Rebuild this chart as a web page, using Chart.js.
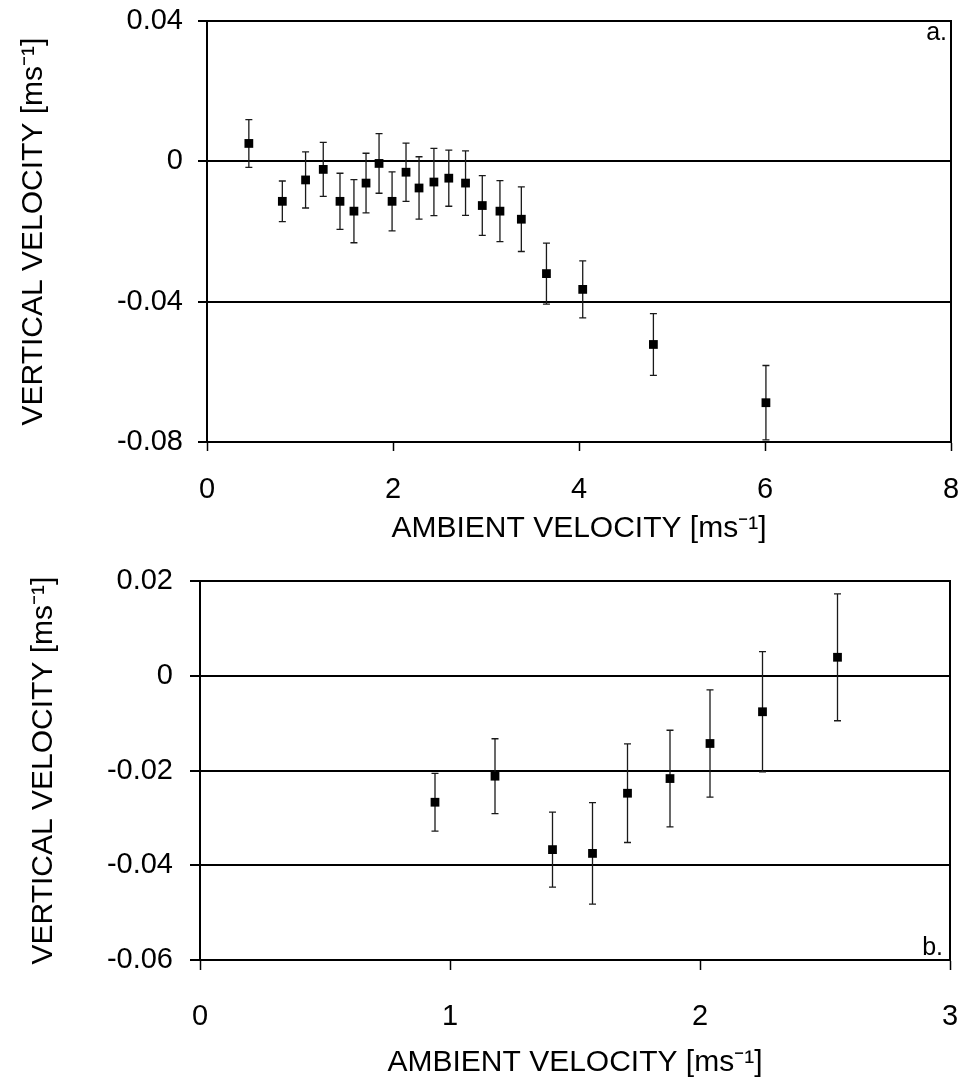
<!DOCTYPE html>
<html>
<head>
<meta charset="utf-8">
<script src="https://cdn.jsdelivr.net/npm/chart.js@4/dist/chart.umd.min.js"></script>
<style>
  html, body { margin: 0; padding: 0; background: #fff; }
  body { width: 960px; height: 1081px; position: relative; overflow: hidden; }
  canvas { position: absolute; left: 0; }
  #chartA { top: 0; }
  #chartB { top: 560px; }
</style>
</head>
<body>
<canvas id="chartA" width="960" height="560"></canvas>
<canvas id="chartB" width="960" height="521"></canvas>
<script>
// ---- Panel a ----
const xA = [0.45, 0.81, 1.06, 1.25, 1.43, 1.58, 1.71, 1.85, 1.99, 2.14, 2.28, 2.44, 2.60, 2.78, 2.96, 3.15, 3.38, 3.65, 4.04, 4.80, 6.01];
const yA = [0.0051, -0.0114, -0.0053, -0.0023, -0.0114, -0.0142, -0.0062, -0.0006, -0.0114, -0.0031, -0.0076, -0.0059, -0.0048, -0.0062, -0.0126, -0.0142, -0.0165, -0.0320, -0.0365, -0.0522, -0.0688];
const errA = [0.0068, 0.0058, 0.0080, 0.0077, 0.0080, 0.0090, 0.0085, 0.0085, 0.0084, 0.0083, 0.0089, 0.0096, 0.0080, 0.0092, 0.0085, 0.0087, 0.0092, 0.0087, 0.0081, 0.0088, 0.0106];
const xTickValsA = [0, 2, 4, 6, 8];
const xTickLabelsA = ['0', '2', '4', '6', '8'];
const yTickValsA = [-0.08, -0.04, 0, 0.04];
const yTickLabelsA = ['-0.08', '-0.04', '0', '0.04'];

// ---- Panel b ----
const xB = [0.94, 1.18, 1.41, 1.57, 1.71, 1.88, 2.04, 2.25, 2.55];
const yB = [-0.0267, -0.0212, -0.0367, -0.0375, -0.0248, -0.0217, -0.0143, -0.0076, 0.0039];
const errB = [0.0061, 0.0079, 0.0079, 0.0107, 0.0104, 0.0102, 0.0113, 0.0127, 0.0134];
const xTickValsB = [0, 1, 2, 3];
const xTickLabelsB = ['0', '1', '2', '3'];
const yTickValsB = [-0.06, -0.04, -0.02, 0, 0.02];
const yTickLabelsB = ['-0.06', '-0.04', '-0.02', '0', '0.02'];

const xTitle = 'AMBIENT VELOCITY [ms\u207B\u00B9]';
const yTitle = 'VERTICAL VELOCITY [ms\u207B\u00B9]';

Chart.defaults.font.family = "'Liberation Sans', Arial, Helvetica, sans-serif";
Chart.defaults.color = '#000';

function labelFrom(vals, labels) {
  return function (value) {
    for (let i = 0; i < vals.length; i++) {
      if (Math.abs(vals[i] - value) < 1e-6) return labels[i];
    }
    return '';
  };
}

function zeroPad(scale) {
  scale.paddingTop = 0;
  scale.paddingBottom = 0;
  scale.paddingLeft = 0;
  scale.paddingRight = 0;
}

const errorBarPlugin = {
  id: 'errorBars',
  beforeDatasetsDraw(chart, args, opts) {
    const { ctx } = chart;
    const xs = chart.scales.x, ys = chart.scales.y;
    const pts = chart.data.datasets[0].data;
    ctx.save();
    ctx.strokeStyle = '#1a1a1a';
    ctx.lineWidth = 1.3;
    pts.forEach((p, i) => {
      const px = xs.getPixelForValue(p.x);
      const t = ys.getPixelForValue(p.y + opts.errors[i]);
      const b = ys.getPixelForValue(p.y - opts.errors[i]);
      ctx.beginPath();
      ctx.moveTo(px, t); ctx.lineTo(px, b);
      ctx.moveTo(px - 3.5, t); ctx.lineTo(px + 3.5, t);
      ctx.moveTo(px - 3.5, b); ctx.lineTo(px + 3.5, b);
      ctx.stroke();
    });
    ctx.restore();
  },
  afterDraw(chart, args, opts) {
    const { ctx, chartArea } = chart;
    ctx.save();
    ctx.strokeStyle = '#000';
    ctx.lineWidth = 2;
    ctx.beginPath();
    ctx.moveTo(chartArea.right, chartArea.top - 1);
    ctx.lineTo(chartArea.right, chartArea.bottom);
    ctx.stroke();
    ctx.fillStyle = '#000';
    ctx.font = "25px 'Liberation Sans', Arial, sans-serif";
    ctx.textAlign = 'right';
    ctx.textBaseline = 'alphabetic';
    const ly = opts.labelPos === 'top' ? chartArea.top + 19 : chartArea.bottom - 5;
    ctx.fillText(opts.label, chartArea.right - opts.labelInset, ly);
    ctx.restore();
  }
};

function makeChart(id, xs, ys, errs, cfg) {
  const data = xs.map((x, i) => ({ x: x, y: ys[i] }));
  return new Chart(document.getElementById(id), {
    type: 'scatter',
    data: {
      datasets: [{
        data: data,
        showLine: false,
        pointStyle: 'rect',
        pointRadius: 6.2,
        pointHoverRadius: 6.2,
        backgroundColor: '#000',
        borderColor: '#000',
        borderWidth: 0
      }]
    },
    options: {
      responsive: false,
      animation: false,
      devicePixelRatio: 1,
      events: [],
      layout: { padding: { top: 21, right: cfg.rightPad, left: 0, bottom: 0 } },
      plugins: {
        legend: { display: false },
        tooltip: { enabled: false },
        errorBars: { errors: errs, label: cfg.label, labelPos: cfg.labelPos, labelInset: cfg.labelInset }
      },
      scales: {
        x: {
          type: 'linear',
          min: cfg.xMin, max: cfg.xMax,
          afterFit(scale) { scale.height = cfg.xAxisHeight; zeroPad(scale); },
          afterBuildTicks(scale) { scale.ticks = cfg.xVals.map(v => ({ value: v })); },
          ticks: {
            callback: labelFrom(cfg.xVals, cfg.xLabels),
            font: { size: 29 },
            color: '#000',
            padding: cfg.xTickPad,
            maxRotation: 0,
            autoSkip: false
          },
          grid: {
            drawOnChartArea: false,
            drawTicks: true,
            tickLength: cfg.tickLen,
            tickColor: '#000',
            tickWidth: 1.5,
            color: '#000'
          },
          border: { display: true, color: '#000', width: 2 },
          title: {
            display: true,
            text: xTitle,
            font: { size: 30 },
            color: '#000',
            padding: { top: 0, bottom: cfg.xTitlePad }
          }
        },
        y: {
          type: 'linear',
          min: cfg.yMin, max: cfg.yMax,
          afterFit(scale) { scale.width = cfg.yAxisWidth; zeroPad(scale); },
          afterBuildTicks(scale) { scale.ticks = cfg.yVals.map(v => ({ value: v })); },
          ticks: {
            callback: labelFrom(cfg.yVals, cfg.yLabels),
            font: { size: 29 },
            color: '#000',
            padding: cfg.yTickPad,
            autoSkip: false
          },
          grid: {
            drawOnChartArea: true,
            drawTicks: true,
            tickLength: cfg.tickLen,
            color: '#000',
            lineWidth: 2,
            tickColor: '#000',
            tickWidth: 2
          },
          border: { display: true, color: '#000', width: 2 },
          title: {
            display: true,
            text: yTitle,
            font: { size: 30 },
            color: '#000',
            padding: { top: cfg.yTitlePad, bottom: 0 }
          }
        }
      }
    },
    plugins: [errorBarPlugin]
  });
}

makeChart('chartA', xA, yA, errA, {
  xMin: 0, xMax: 8, yMin: -0.08, yMax: 0.04,
  xVals: xTickValsA, xLabels: xTickLabelsA, yVals: yTickValsA, yLabels: yTickLabelsA,
  rightPad: 9, yAxisWidth: 207, xAxisHeight: 118,
  tickLen: 9, xTickPad: 22, yTickPad: 15, xTitlePad: 13, yTitlePad: 16,
  label: 'a.', labelPos: 'top', labelInset: 4
});

makeChart('chartB', xB, yB, errB, {
  xMin: 0, xMax: 3, yMin: -0.06, yMax: 0.02,
  xVals: xTickValsB, xLabels: xTickLabelsB, yVals: yTickValsB, yLabels: yTickLabelsB,
  rightPad: 10, yAxisWidth: 200, xAxisHeight: 121,
  tickLen: 10, xTickPad: 30, yTickPad: 17, xTitlePad: 0, yTitlePad: 26,
  label: 'b.', labelPos: 'bottom', labelInset: 7
});
</script>
</body>
</html>
